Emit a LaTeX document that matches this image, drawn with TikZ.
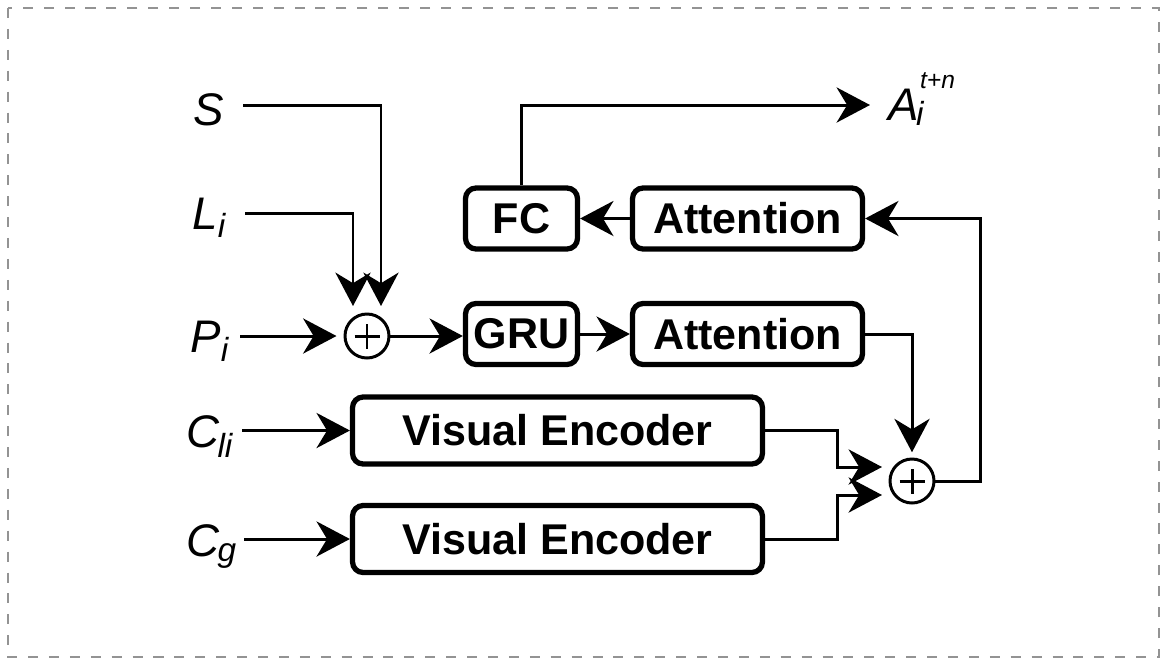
\documentclass[tikz,border=0pt]{standalone}
\usepackage{fontspec}
\setmainfont{Liberation Sans}
\usetikzlibrary{arrows.meta,calc}
\newcommand\sbx[2]{\raisebox{-#1}{\fontsize{19}{23}\selectfont #2}}
\begin{document}
\begin{tikzpicture}[x=0.02cm,y=-0.02cm,
  box/.style={draw,line width=3pt,rounded corners=6pt,inner sep=0pt,font=\fontsize{24.5}{28}\selectfont\bfseries},
  smallbox/.style={box,minimum width=2.24cm,minimum height=1.22cm},
  widebox/.style={box,minimum width=4.6cm,minimum height=1.22cm},
  encbox/.style={box,minimum width=8.2cm,minimum height=1.34cm},
  sumnode/.style={draw,circle,line width=1.7pt,minimum size=0.88cm,inner sep=0pt,
    path picture={
      \draw[line width=1.7pt] ([xshift=-0.25cm]path picture bounding box.center) -- ([xshift=0.25cm]path picture bounding box.center);
      \draw[line width=1.7pt] ([yshift=-0.25cm]path picture bounding box.center) -- ([yshift=0.25cm]path picture bounding box.center);}},
  conn/.style={line width=1.7pt,-{Stealth[length=19pt,width=20pt,inset=6pt]}},
  lab/.style={anchor=base west,inner sep=0pt,font=\fontsize{26}{30}\selectfont\itshape}]
\useasboundingbox (0,0) rectangle (1167,664);
\draw[gray!85,line width=1.1pt,dash pattern=on 5.7pt off 6.2pt] (8,8) rectangle (1159,657);

% labels
\node[lab] (S) at (193,125) {S};
\node[lab] (L) at (192,229) {L\sbx{5pt}{i}};
\node[lab] (P) at (190,352) {P\sbx{5.5pt}{i}};
\node[lab] (Cl) at (186,447) {C\kern-1pt\sbx{6pt}{li}};
\node[lab] (Cg) at (186,556) {C\kern-1pt\sbx{3pt}{g}};
\node[lab] (A) at (888,120) {A\kern-1.5pt\sbx{3pt}{i}\kern-2pt\raisebox{18pt}{\fontsize{14}{16}\selectfont t+n}};

% boxes
\node[smallbox] (fc) at (521.5,218.5) {FC};
\node[widebox] (att1) at (747.5,218.5) {Attention};
\node[smallbox] (gru) at (521.5,334) {GRU};
\node[widebox] (att2) at (747.5,334) {Attention};
\node[encbox] (ve1) at (557.5,430.5) {Visual Encoder};
\node[encbox] (ve2) at (557.5,539) {Visual Encoder};
\node[sumnode] (o1) at (367,336) {};
\node[sumnode] (o2) at (912,481) {};

% free ends
\coordinate (s0) at (243,105);
\coordinate (l0) at (245,213);
\coordinate (p0) at (240,336);
\coordinate (c1) at (242,430.5);
\coordinate (c2) at (244,539);
\coordinate (aend) at (870,105);

% connectors
\draw[conn] (s0) -| ($(o1)+(14,-30)$);
\draw[conn] (l0) -| ($(o1)+(-14,-30)$);
\draw[conn,shorten >=4pt] (p0) -- (o1);
\draw[conn] (o1) -- (o1 -| gru.west);
\draw[conn] (gru) -- (att2);
\draw[conn] (att1) -- (fc);
\draw[conn] (fc.north) |- (aend);
\draw[conn,shorten >=3pt] (att2.east) -| (o2);
\draw[conn] (ve1.east) -- ++(72,0) |- ($(o2)+(-30,-14)$);
\draw[conn] (ve2.east) -- ++(72,0) |- ($(o2)+(-30,14)$);
\draw[conn] (o2.east) -- ++(45,0) |- (att1.east);
\draw[conn] (c1) -- (ve1.west);
\draw[conn] (c2) -- (ve2.west);
\end{tikzpicture}
\end{document}
